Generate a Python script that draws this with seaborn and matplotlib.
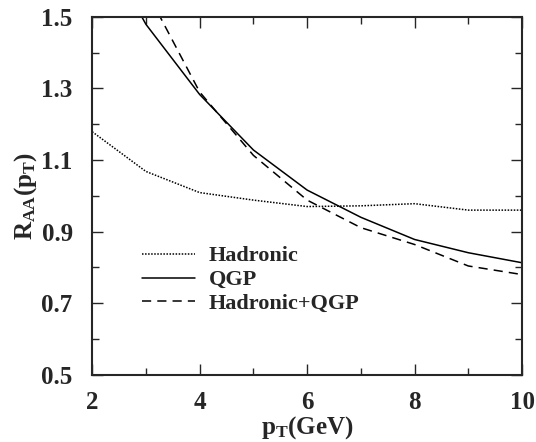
import seaborn as sns
import pandas as pd
import matplotlib.pyplot as plt
from matplotlib.ticker import MultipleLocator

pt = [2, 3, 4, 5, 6, 7, 8, 9, 10]
hadronic = [1.179, 1.068, 1.009, 0.988, 0.970, 0.972, 0.978, 0.960, 0.960]
qgp = [1.75, 1.479, 1.283, 1.128, 1.016, 0.940, 0.878, 0.841, 0.813]
hadronic_qgp = [2.0, 1.575, 1.290, 1.113, 0.988, 0.911, 0.864, 0.804, 0.780]

labels = ['Hadronic', 'QGP', 'Hadronic+QGP']
styles = [(0, (1, 1)), '-', (0, (6, 4))]

rows = []
for name, vals in zip(labels, [hadronic, qgp, hadronic_qgp]):
    for x, y in zip(pt, vals):
        rows.append({'pT': x, 'RAA': y, 'Curve': name})
df = pd.DataFrame(rows)

sns.set_style('ticks')
plt.rcParams['font.family'] = ['Liberation Serif', 'DejaVu Serif']
plt.rcParams['font.weight'] = 'bold'
plt.rcParams['mathtext.fontset'] = 'custom'
plt.rcParams['mathtext.rm'] = 'Liberation Serif:bold'
plt.rcParams['mathtext.it'] = 'Liberation Serif:bold'
plt.rcParams['mathtext.bf'] = 'Liberation Serif:bold'

fig, ax = plt.subplots(figsize=(5.36, 4.42), dpi=100)
fig.subplots_adjust(left=0.172, right=0.974, top=0.962, bottom=0.152)

for name, ls in zip(labels, styles):
    sub = df[df['Curve'] == name]
    sns.lineplot(data=sub, x='pT', y='RAA', ax=ax, color='black', label=name,
                 linewidth=1.1, linestyle=ls)

ax.set_xlim(2, 10)
ax.set_ylim(0.5, 1.5)
ax.xaxis.set_major_locator(MultipleLocator(2))
ax.xaxis.set_minor_locator(MultipleLocator(1))
ax.yaxis.set_minor_locator(MultipleLocator(0.1))
ax.set_yticks([0.5, 0.7, 0.9, 1.1, 1.3, 1.5])
ax.set_yticklabels(['0.5', '0.7', '0.9', '1.1', '1.3', '1.5'])
ax.tick_params(which='both', direction='in', top=True, right=True,
               labelsize=18, width=1.0)
ax.tick_params(which='major', length=8)
ax.tick_params(axis='y', which='major', pad=14)
ax.tick_params(axis='x', which='major', pad=12)
ax.tick_params(which='minor', length=5)
for lbl in ax.get_xticklabels() + ax.get_yticklabels():
    lbl.set_fontweight('bold')
for s in ax.spines.values():
    s.set_linewidth(1.5)

ax.set_xlabel(r'$\mathregular{p_T}$(GeV)', fontsize=18, fontweight='bold', labelpad=0)
ax.set_ylabel(r'$\mathregular{R_{AA}(p_T)}$', fontsize=18, fontweight='bold', labelpad=2)

ax.legend(loc='upper left', bbox_to_anchor=(0.116, 0.36), frameon=False,
          borderaxespad=0, borderpad=0,
          prop={'size': 16, 'weight': 'bold'}, handlelength=2.4,
          labelspacing=0.15, handletextpad=0.6)

plt.savefig('out.png', dpi=100)
